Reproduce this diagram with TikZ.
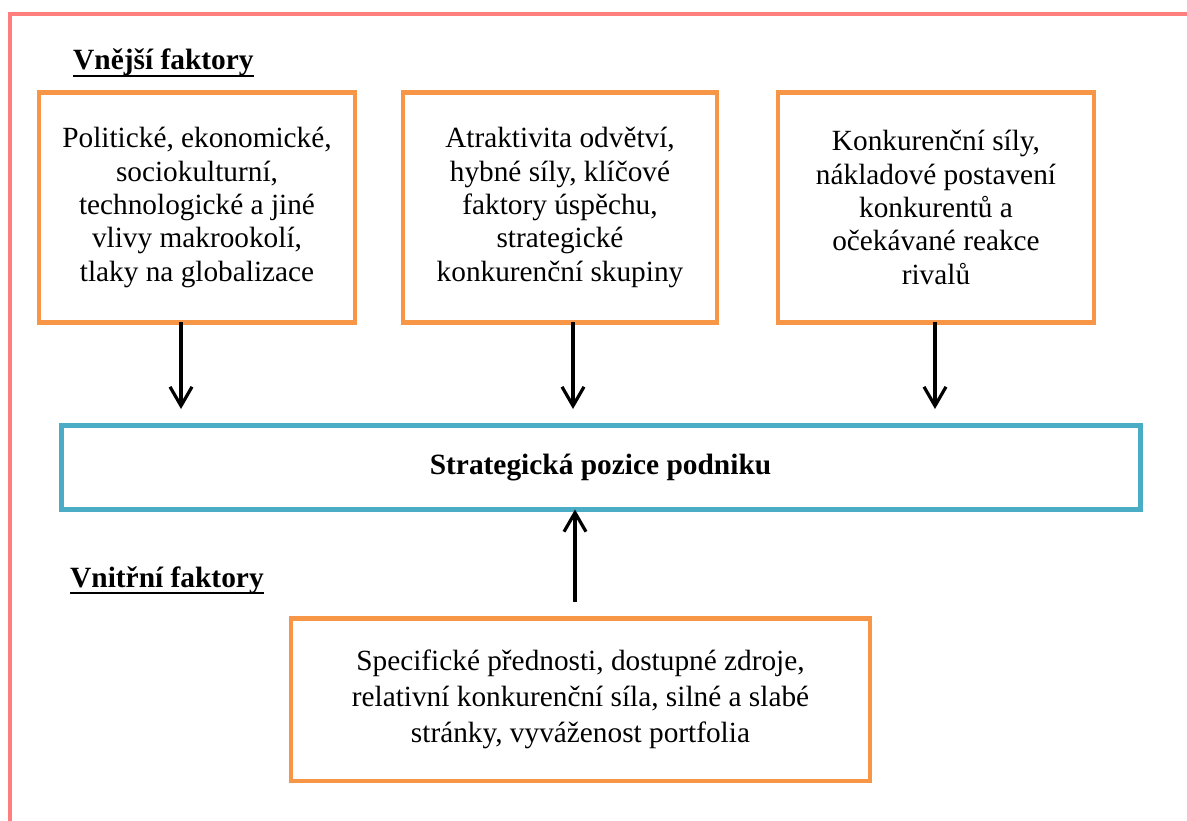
\documentclass[tikz,border=0pt]{standalone}
\usepackage{fontspec}
\setmainfont{Liberation Serif}
\usetikzlibrary{arrows.meta}
\definecolor{framepink}{HTML}{FF7F7F}
\definecolor{extorange}{HTML}{F79646}
\definecolor{coreblue}{HTML}{4BACC6}
\begin{document}
\begin{tikzpicture}[x=1pt,y=-1pt,
  bodyfont/.style={font=\fontsize{29.3}{33.4}\selectfont},
  factorbox/.style={draw=extorange, line width=4.5pt, outer sep=0pt, inner sep=0pt,
    align=center, bodyfont},
  corebox/.style={draw=coreblue, line width=5pt, outer sep=0pt, inner sep=0pt,
    align=center, font=\fontsize{29.4}{33.4}\selectfont\bfseries},
  heading/.style={anchor=base west, inner sep=0pt, font=\fontsize{29.4}{33.4}\selectfont\bfseries},
  uline/.style={line width=2.6pt},
  arr/.style={line width=3.2pt, -{Straight Barb[length=19pt,width=22pt]}},
]
\useasboundingbox (0,0) rectangle (1187,821);

% outer frame (open at the right and bottom)
\draw[framepink, line width=4.5pt] (10,821) -- (10,14) -- (1187,14);

% headings
\node[heading] (hext) at (73,70) {Vnější faktory};
\draw[uline] (hext.base west) ++(0,6) -- ([yshift=-6pt]hext.base east);
\node[heading] (hint) at (70,587) {Vnitřní faktory};
\draw[uline] (hint.base west) ++(0,6) -- ([yshift=-6pt]hint.base east);

% external factors
\node[factorbox, minimum width=316, minimum height=230] (b1) at (197,207.5)
  {Politické, ekonomické,\\sociokulturní,\\technologické a jiné\\vlivy makrookolí,\\tlaky na globalizace};
\node[factorbox, minimum width=314, minimum height=230] (b2) at (560,207.5)
  {Atraktivita odvětví,\\hybné síly, klíčové\\faktory úspěchu,\\strategické\\konkurenční skupiny};
\node[factorbox, minimum width=316, minimum height=230] (b3) at (936,207.5)
  {Konkurenční síly,\\nákladové postavení\\konkurentů a\\očekávané reakce\\rivalů};

% strategic position
\node[corebox, minimum width=1079, minimum height=84] (pos) at (600.5,467.5)
  {Strategická pozice podniku};

% internal factors
\node[factorbox, minimum width=579, minimum height=162.5,
  font=\fontsize{29.3}{36}\selectfont] (b4) at (580.5,699.5)
  {Specifické přednosti, dostupné zdroje,\\relativní konkurenční síla, silné a slabé\\stránky, vyváženost portfolia};

% arrows
\coordinate (e1) at (181,409);
\coordinate (e2) at (573,409);
\coordinate (e3) at (935,409);
\coordinate (s4) at (575,602);
\draw[arr] (b1.south -| e1) -- (e1);
\draw[arr] (b2.south -| e2) -- (e2);
\draw[arr] (b3.south -| e3) -- (e3);
\draw[arr] (s4) -- (pos.south -| s4);
\end{tikzpicture}
\end{document}
